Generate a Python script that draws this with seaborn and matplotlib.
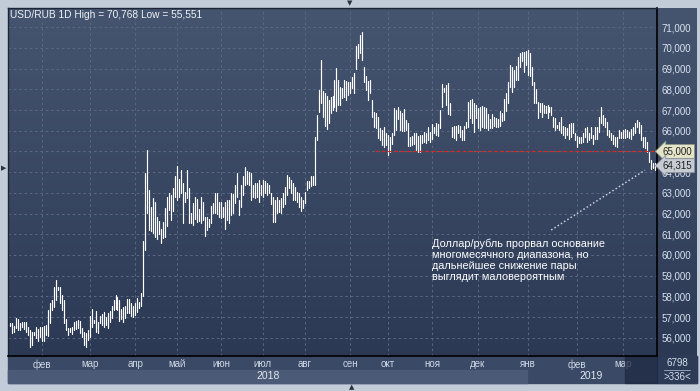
import numpy as np
import pandas as pd
import matplotlib
matplotlib.use("Agg")
import matplotlib.pyplot as plt
import matplotlib.transforms as mtransforms
from matplotlib.patches import Rectangle
from matplotlib.colors import LinearSegmentedColormap
from matplotlib.ticker import FuncFormatter
import seaborn as sns

# months shown (Jan 2018 .. Mar 2019) and number of daily bars in each
month_labels = ['', 'фев', 'мар', 'апр', 'май', 'июн', 'июл', 'авг', 'сен',
                'окт', 'ноя', 'дек', 'янв', 'фев', 'мар']
month_bars = [16, 24, 23, 21, 22, 21, 21, 23, 19, 22, 23, 25, 25, 23, 17]
years = ['2018', '2019']
year_months = [12, 3]

# daily highs, one line per month
highs = [
    56.73, 56.73, 56.57, 56.94, 56.92, 56.70, 56.77, 56.77, 56.77, 56.54, 56.38, 56.30, 56.27, 56.51, 56.44, 56.51,
    56.54, 56.57, 56.64, 57.35, 57.67, 57.83, 58.47, 58.79, 58.47, 58.47, 58.07, 57.83, 56.90, 56.46, 56.46, 56.51, 56.77, 56.83, 56.86, 56.83, 56.46, 56.30, 56.22, 56.38,
    57.07, 57.39, 56.86, 57.30, 56.78, 57.07, 57.15, 57.25, 57.02, 57.18, 57.31, 57.54, 57.83, 58.05, 57.96, 57.83, 57.41, 57.50, 57.54, 57.86, 57.86, 57.70, 57.54,
    57.67, 57.94, 57.75, 58.15, 60.69, 63.95, 65.07, 63.14, 62.34, 62.74, 62.58, 61.85, 61.66, 61.24, 61.61, 62.26, 62.82, 63.01, 62.90, 63.22, 63.82,
    64.32, 63.66, 64.11, 63.50, 63.06, 64.11, 63.22, 62.05, 62.53, 62.82, 62.69, 62.24, 62.82, 62.58, 61.85, 61.82, 61.76, 62.37, 62.53, 62.98, 62.98, 62.56,
    62.56, 62.34, 62.56, 62.66, 62.66, 62.98, 62.95, 63.38, 63.95, 62.66, 63.38, 63.82, 64.27, 64.07, 64.03, 63.95, 63.38, 63.46, 63.50, 63.62, 63.38,
    63.62, 63.58, 63.50, 63.38, 63.01, 62.82, 62.66, 62.82, 62.66, 62.74, 62.98, 63.30, 63.87, 63.79, 63.62, 63.50, 63.30, 63.06, 62.98, 62.82, 62.66,
    63.06, 63.58, 63.55, 63.82, 63.82, 65.72, 66.76, 67.97, 69.42, 67.94, 67.84, 67.68, 67.49, 67.65, 67.68, 68.46, 69.02, 68.46, 68.13, 68.05, 68.46, 68.42, 68.37,
    68.37, 68.62, 68.78, 70.10, 70.19, 70.63, 70.77, 69.10, 68.65, 68.42, 68.46, 67.49, 66.92, 66.87, 66.68, 66.12, 66.04, 66.17, 65.88,
    65.80, 65.72, 65.88, 67.08, 67.00, 67.13, 66.97, 66.87, 67.04, 66.52, 66.36, 65.72, 65.75, 65.91, 65.88, 65.75, 65.80, 65.80, 65.96, 65.91, 66.20, 65.96,
    66.33, 66.20, 66.39, 66.33, 67.00, 68.26, 68.05, 68.21, 68.29, 67.33, 66.20, 66.23, 66.23, 66.26, 66.23, 66.04, 66.23, 66.44, 67.41, 67.49, 67.52, 67.33, 67.25,
    67.08, 67.13, 67.20, 67.13, 67.08, 66.81, 66.55, 66.81, 66.65, 66.60, 66.55, 66.97, 66.87, 67.52, 67.84, 68.37, 69.18, 69.10, 68.94, 69.13, 69.55, 69.74, 69.82, 69.82, 69.87,
    69.90, 69.74, 69.10, 68.37, 68.00, 67.41, 67.36, 67.33, 67.25, 67.20, 67.25, 67.13, 67.17, 66.68, 66.60, 66.28, 66.44, 66.65, 66.23, 66.20, 66.12, 66.33, 66.36, 66.39, 65.88,
    65.75, 65.69, 65.72, 65.88, 66.12, 66.20, 65.91, 66.17, 65.80, 66.20, 66.17, 66.68, 67.17, 66.76, 66.60, 66.44, 66.04, 65.88, 65.80, 65.72, 65.72, 66.04, 65.96,
    66.04, 66.07, 66.04, 65.96, 66.07, 66.20, 66.39, 66.52, 66.44, 66.28, 65.72, 65.69, 65.48, 64.99, 64.59, 64.43, 64.46,
]

# daily lows, one line per month
lows = [
    56.57, 56.22, 56.30, 56.46, 56.38, 56.38, 56.54, 56.41, 56.30, 56.14, 55.57, 55.65, 56.14, 55.98, 55.86, 56.06,
    55.86, 55.86, 56.14, 56.09, 56.70, 57.35, 57.50, 57.83, 58.31, 57.67, 57.35, 56.70, 56.38, 56.14, 56.30, 56.19, 56.38, 56.41, 56.46, 56.22, 56.06, 55.65, 55.55, 55.90,
    56.06, 56.54, 56.70, 56.30, 56.25, 56.70, 56.62, 56.54, 56.62, 56.46, 56.77, 56.94, 57.35, 57.38, 57.35, 56.83, 56.93, 56.78, 56.94, 57.18, 57.18, 57.06, 57.02,
    57.12, 57.26, 57.42, 57.54, 58.02, 60.24, 62.05, 61.21, 61.18, 61.05, 60.86, 60.76, 61.02, 60.56, 60.81, 60.86, 61.40, 62.18, 61.69, 62.14, 62.82,
    62.66, 62.82, 62.98, 61.53, 62.58, 62.74, 61.56, 61.53, 61.45, 61.72, 61.61, 61.63, 61.53, 61.69, 60.92, 61.21, 61.34, 61.53, 62.01, 62.01, 61.98, 61.85,
    61.77, 61.82, 61.24, 61.69, 61.56, 61.93, 62.05, 62.53, 62.82, 61.93, 62.34, 62.90, 63.38, 63.43, 63.38, 62.66, 62.82, 62.74, 62.82, 62.58, 62.90,
    62.82, 62.98, 62.90, 62.98, 62.47, 61.61, 61.61, 62.01, 62.09, 62.05, 62.34, 62.47, 62.90, 63.22, 62.98, 62.66, 62.66, 62.58, 62.34, 62.14, 62.26,
    62.53, 63.14, 63.22, 63.33, 63.38, 63.38, 65.56, 66.92, 67.33, 66.68, 66.23, 66.07, 66.39, 66.87, 67.00, 67.13, 66.97, 67.25, 67.25, 67.57, 67.65, 67.49, 67.73,
    67.84, 68.05, 67.81, 68.97, 69.50, 69.74, 69.42, 68.37, 67.97, 67.49, 67.81, 66.68, 66.20, 66.12, 65.64, 65.56, 65.31, 65.23, 65.31,
    64.83, 64.99, 65.36, 65.80, 66.04, 66.55, 66.04, 66.01, 66.01, 66.04, 65.26, 65.26, 65.31, 65.36, 65.07, 64.99, 64.96, 65.40, 65.48, 65.43, 65.56, 65.48,
    65.59, 65.88, 65.80, 65.75, 66.12, 67.17, 67.89, 67.25, 66.81, 66.76, 65.69, 65.64, 65.56, 65.88, 65.72, 65.53, 65.56, 66.12, 66.20, 66.60, 66.36, 65.96, 66.60,
    66.12, 66.04, 66.20, 66.12, 66.12, 66.04, 66.12, 66.12, 66.23, 66.17, 66.17, 66.23, 66.49, 66.52, 66.97, 67.33, 68.13, 67.89, 68.13, 68.46, 68.46, 69.10, 69.39, 68.86, 69.18,
    68.70, 68.65, 68.21, 67.33, 67.33, 66.60, 66.92, 66.68, 66.84, 66.84, 66.60, 66.92, 66.76, 66.20, 66.04, 66.12, 66.04, 65.91, 65.80, 65.64, 65.80, 65.59, 65.69, 65.91, 65.56,
    65.20, 65.40, 65.43, 65.48, 65.72, 65.48, 65.53, 65.64, 65.36, 65.59, 65.59, 65.96, 66.36, 66.28, 66.20, 65.80, 65.69, 65.53, 65.36, 65.26, 65.20, 65.64, 65.64,
    65.64, 65.64, 65.69, 65.64, 65.59, 65.80, 65.88, 66.20, 65.88, 65.56, 65.23, 65.15, 64.99, 64.51, 64.14, 64.19, 64.11,
]

period_high = 70.768
period_low = 55.551
level = 65.0
last_close = 64.315
y_ticks = list(range(56, 72))
note = ("Доллар/рубль прорвал основание\nмногомесячного диапазона, но\n"
        "дальнейшее снижение пары\nвыглядит маловероятным")


def rub(v):
    return f"{v:.3f}".replace('.', ',')


sns.set_theme(style="dark")
plt.rcParams['font.family'] = ['Liberation Sans', 'DejaVu Sans']

n = min(len(highs), len(lows))
df = pd.DataFrame({
    'bar': np.repeat(np.arange(n), 2),
    'price': np.column_stack([lows[:n], highs[:n]]).ravel(),
})

W, H = 700, 391


def fbox(x0, y0, x1, y1):
    # pixel box, top-left origin -> figure fraction rect
    return [x0 / W, 1 - y1 / H, (x1 - x0) / W, (y1 - y0) / H]


fig = plt.figure(figsize=(7, 3.91), dpi=100, facecolor='#c2ccd9')
bg = LinearSegmentedColormap.from_list('bg', ['#2b3955', '#46556f'])
grad = np.linspace(0, 1, 256).reshape(-1, 1)

# right price panel
side = fig.add_axes(fbox(657, 8, 697, 356), zorder=0)
side.imshow(grad, cmap=bg, origin='lower', aspect='auto', extent=[0, 1, 0, 1])
side.set_axis_off()

# bottom time panel
fig.add_artist(Rectangle(fbox(8, 356, 697, 383)[:2], 689 / W, 27 / H,
                         transform=fig.transFigure, color='#3a4965', zorder=1))
fig.add_artist(Rectangle(fbox(657, 356, 697, 383)[:2], 40 / W, 27 / H,
                         transform=fig.transFigure, color='#2d3b57', zorder=1))

ax = fig.add_axes(fbox(8, 8, 657, 356), zorder=2)
x_lo, x_hi = -1, n
y_lo, y_hi = 55.12, 71.93
ax.imshow(grad, cmap=bg, origin='lower', aspect='auto',
          extent=[x_lo, x_hi, y_lo, y_hi], zorder=0)

sns.lineplot(data=df, x='bar', y='price', units='bar', estimator=None,
             color='white', lw=0.85, ax=ax, legend=False, zorder=3)

ax.set_xlim(x_lo, x_hi)
ax.set_ylim(y_lo, y_hi)
ax.set_xlabel('')
ax.set_ylabel('')

starts = np.concatenate([[0], np.cumsum(month_bars)[:-1]])
ax.set_xticks(starts[1:])
ax.set_xticklabels(month_labels[1:])
ax.set_yticks(y_ticks)
# the 65,000 tick sits under the level marker, so only the marker shows it
ax.yaxis.set_major_formatter(FuncFormatter(lambda v, p: '' if v == level else rub(v)))
ax.yaxis.tick_right()
ax.tick_params(axis='x', length=0, pad=2.5, labelsize=7, labelcolor='#cfd8e6')
ax.tick_params(axis='y', length=0, pad=3, labelsize=7, labelcolor='#d9e2ef')
ax.set_axisbelow(True)
ax.grid(True, color='#5b6985', ls=(0, (2.5, 3)), lw=0.7)

for s in ['right', 'bottom']:
    ax.spines[s].set_color('black')
    ax.spines[s].set_linewidth(1.2)
for s in ['top', 'left']:
    ax.spines[s].set_color('#1c2436')
    ax.spines[s].set_linewidth(1.0)

# year row under the month labels
below = mtransforms.blended_transform_factory(ax.transData, ax.transAxes)
yr_edges = np.concatenate([[0], np.cumsum(month_bars)])
m0 = 0
for i, (yr, nm) in enumerate(zip(years, year_months)):
    b0, b1 = yr_edges[m0], yr_edges[m0 + nm]
    if i == 0:
        ax.add_patch(Rectangle((x_lo, -0.0776), b1 - 0.5 - x_lo, 0.0374,
                               transform=below, color='#4b5a76', clip_on=False, zorder=1))
    ax.text((b0 + b1 - 1) / 2, -0.058, yr, transform=below, ha='center', va='center',
            size=7.5, color='#e3e8f0', clip_on=False)
    m0 += nm
# current month highlight, laid over its label
ax.add_patch(Rectangle((starts[-1] + 1, -0.0776), x_hi - starts[-1] - 1, 0.0776,
                       transform=below, color='#1d2840', alpha=0.7, clip_on=False, zorder=1))

# title
ax.text(0.003, 0.993, f"USD/RUB 1D High = {rub(period_high)} Low = {rub(period_low)}",
        transform=ax.transAxes, ha='left', va='top', size=7.3, color='#eef2f7', zorder=6)

# level line and price labels
ax.axhline(level, xmin=0.566, xmax=1, color='#d42a22', ls=(0, (3, 2)), lw=0.9, zorder=4)
right = mtransforms.blended_transform_factory(ax.transAxes, ax.transData)
ax.text(1.009, level, rub(level), transform=right, ha='left', va='center', size=7,
        color='#222222', clip_on=False, zorder=7,
        bbox=dict(boxstyle='larrow,pad=0.2', fc='#e4e4c8', ec='#8e948a', lw=0.6))
ax.text(1.009, last_close, rub(last_close), transform=right, ha='left', va='center', size=7,
        color='#222222', clip_on=False, zorder=7,
        bbox=dict(boxstyle='larrow,pad=0.2', fc='#c6cbd4', ec='#8e949e', lw=0.6))

# annotation
ax.plot([0.837, 0.9815], [0.362, 0.534], transform=ax.transAxes, color='#c9d1dd',
        ls=(0, (1, 1.5)), lw=1.1, zorder=5)
ax.text(0.653, 0.338, note, transform=ax.transAxes, ha='left', va='top', size=7.8,
        color='white', linespacing=1.12, zorder=6)

# corner box
fig.text(677 / W, 1 - 363 / H, '6798', ha='center', va='center', size=7, color='#d5deeb')
fig.text(677 / W, 1 - 377 / H, '>336<', ha='center', va='center', size=7, color='#d5deeb')
fig.add_artist(plt.Line2D([664 / W, 690 / W], [1 - 370 / H, 1 - 370 / H],
                          transform=fig.transFigure, color='#9fb0c8', lw=0.6))

# navigation arrows
fig.text(350 / W, 1 - 3.5 / H, '▼', ha='center', va='center', size=5, color='#2b3240',
         family='DejaVu Sans')
fig.text(3.5 / W, 1 - 168 / H, '▶', ha='center', va='center', size=5, color='#2b3240',
         family='DejaVu Sans')
fig.text(352 / W, 1 - 387.5 / H, '▲', ha='center', va='center', size=5, color='#2b3240',
         family='DejaVu Sans')

fig.savefig('out.png', dpi=100, facecolor=fig.get_facecolor())
